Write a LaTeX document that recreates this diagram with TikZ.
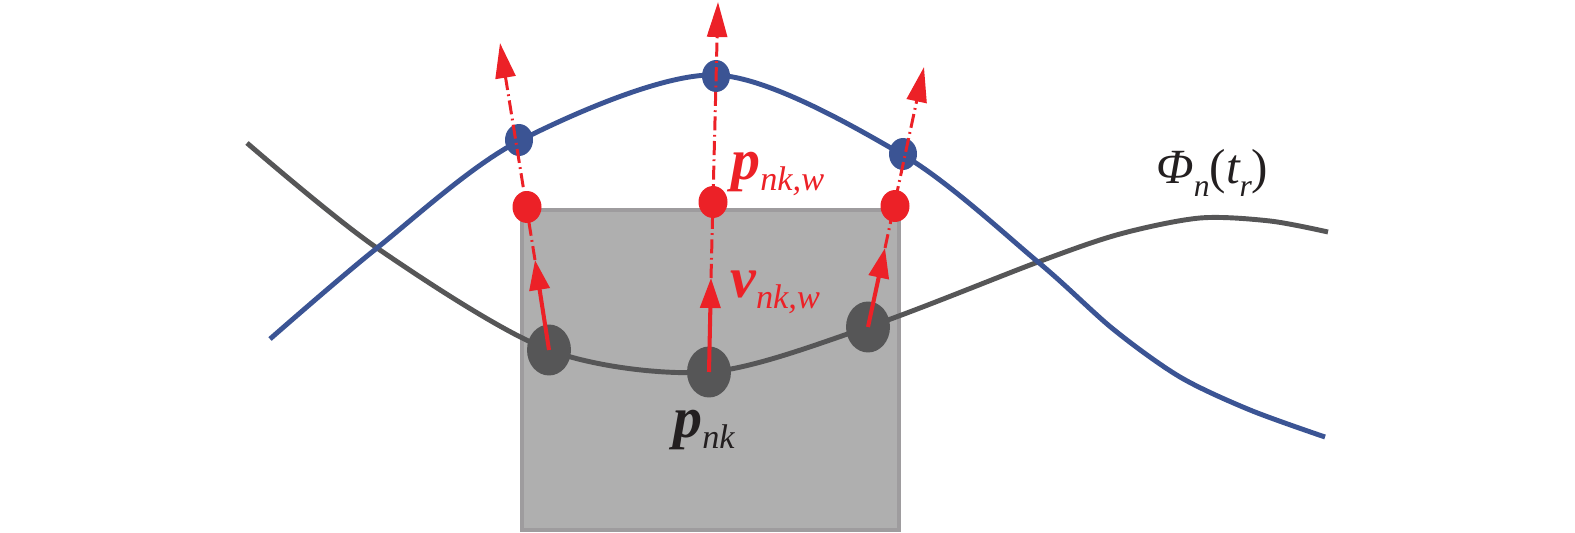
\documentclass[tikz,border=0pt]{standalone}
\usepackage{fontspec}
\setmainfont{Liberation Serif}
\usepackage{tikz}
\usetikzlibrary{positioning, arrows.meta, calc, shapes.geometric}

\definecolor{curveblue}{HTML}{3B5494}
\definecolor{curvegray}{HTML}{565657}
\definecolor{ptred}{HTML}{EC2127}
\definecolor{boxfill}{HTML}{AFAFAF}
\definecolor{boxedge}{HTML}{9E9C9E}
\definecolor{txtblack}{HTML}{231F20}

\newcommand{\boldsub}[2]{{\fontsize{33pt}{36pt}\selectfont\bfseries\itshape #1}\raisebox{-6pt}{\fontsize{19.5pt}{22pt}\selectfont\itshape #2}}

\begin{document}
\begin{tikzpicture}[x=0.02cm, y=-0.02cm,
  dot/.style={ellipse, inner sep=0pt, draw=none},
  graydot/.style={dot, fill=curvegray, minimum width=0.88cm, minimum height=1.02cm},
  bluedot/.style={dot, fill=curveblue, minimum width=0.56cm, minimum height=0.64cm},
  reddot/.style={dot, fill=ptred, minimum width=0.58cm, minimum height=0.64cm},
  motion/.style={ptred, line width=2.3pt, -{Triangle[length=0.6cm, width=0.4cm]}},
  normal/.style={ptred, line width=1.7pt, dash pattern=on 8pt off 2.5pt on 1pt off 2.5pt,
                 -{Triangle[length=0.7cm, width=0.4cm]}},
  lbl/.style={anchor=base west, inner sep=0pt}]
  \useasboundingbox (0,0) rectangle (1575,533);

  % Patch
  \draw[boxedge, fill=boxfill, line width=2.8pt] (522,210) rectangle (899,530);

  % Curves
  \draw[curvegray, line width=2.8pt] plot[smooth] coordinates {(247,143) (377,248)
    (549,350) (709,372) (868,327) (1038,262) (1120,234) (1200,218) (1270,221) (1328,232)};
  \draw[curveblue, line width=2.8pt] plot[smooth] coordinates {(270,339) (377,248)
    (519,141) (716,75) (903,155) (1038,262) (1113,329) (1180,377) (1250,410) (1325,437)};

  % Points
  \node[graydot] (g1) at (549,350) {};
  \node[graydot] (g2) at (709,372) {};
  \node[graydot] (g3) at (868,327) {};
  \node[bluedot] (b1) at (519,140) {};
  \node[bluedot] (b2) at (716,76) {};
  \node[bluedot] (b3) at (903,154) {};
  \node[reddot] (r1) at (527,207) {};
  \node[reddot] (r2) at (713,202) {};
  \node[reddot] (r3) at (895,206) {};

  % Tips
  \coordinate (v1) at (535,260);
  \coordinate (v2) at (711,278);
  \coordinate (v3) at (885,248);
  \coordinate (n1) at (500,43);
  \coordinate (n2) at (718,2);
  \coordinate (n3) at (924,67);

  % Displacements
  \draw[normal] (v1) -- (n1);
  \draw[normal] (v2) -- (n2);
  \draw[normal] (v3) -- (n3);
  \draw[motion] (g1.center) -- (v1);
  \draw[motion] (g2.center) -- (v2);
  \draw[motion] (g3.center) -- (v3);

  % Labels
  \node[lbl, ptred] (pw) at (731,180) {\boldsub{p}{nk,w}};
  \node[lbl, ptred] (vw) at (730,298) {\boldsub{v}{nk,w}};
  \node[lbl, txtblack] (pk) at (673,438) {\boldsub{p}{nk}};
  \node[lbl, txtblack] (phi) at (1156,184) {\fontsize{28pt}{31pt}\selectfont\itshape
    Φ\raisebox{-7pt}{\fontsize{18pt}{20pt}\selectfont n}{\upshape(}t\raisebox{-7pt}{\fontsize{18pt}{20pt}\selectfont r}{\upshape)}};
\end{tikzpicture}
\end{document}
